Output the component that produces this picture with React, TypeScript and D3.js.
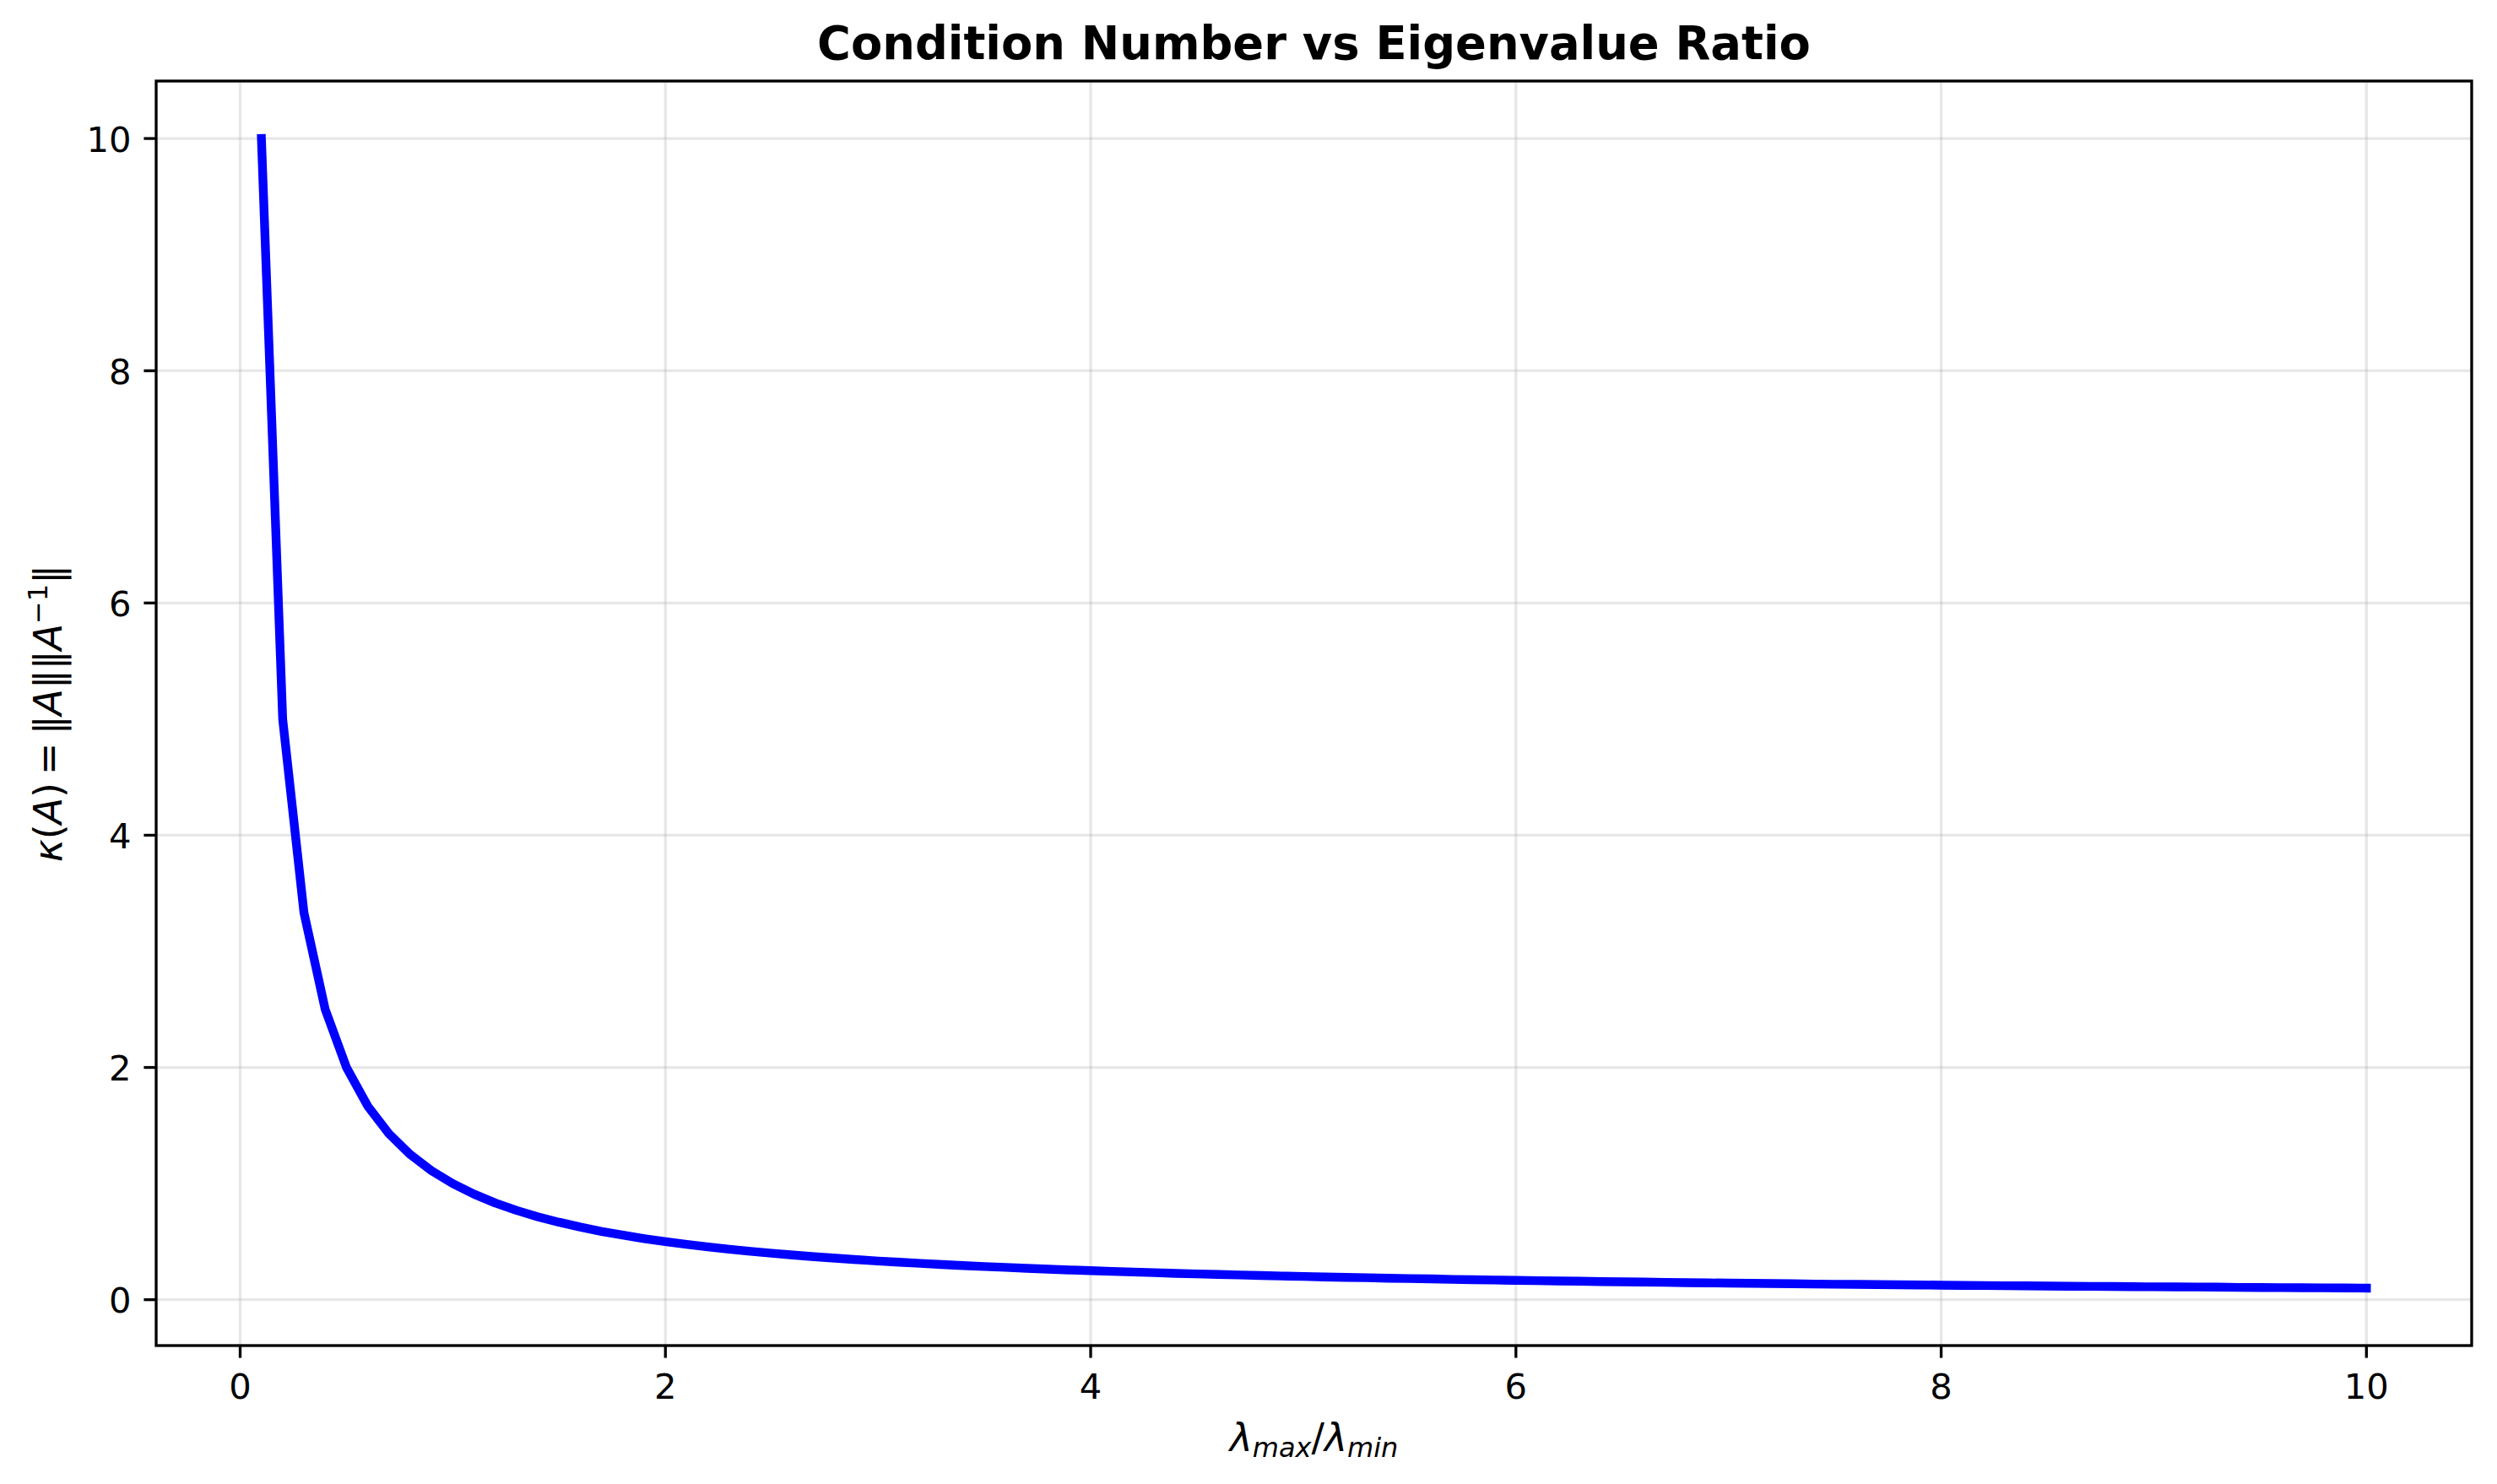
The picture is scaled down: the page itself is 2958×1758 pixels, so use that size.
import React from "react";
import * as d3 from "d3";

const ratioValues: number[] = [
  0.1, 0.2, 0.3, 0.4, 0.5, 0.6, 0.7, 0.8, 0.9, 1.0,
  1.1, 1.2, 1.3, 1.4, 1.5, 1.6, 1.7, 1.8, 1.9, 2.0,
  2.1, 2.2, 2.3, 2.4, 2.5, 2.6, 2.7, 2.8, 2.9, 3.0,
  3.1, 3.2, 3.3, 3.4, 3.5, 3.6, 3.7, 3.8, 3.9, 4.0,
  4.1, 4.2, 4.3, 4.4, 4.5, 4.6, 4.7, 4.8, 4.9, 5.0,
  5.1, 5.2, 5.3, 5.4, 5.5, 5.6, 5.7, 5.8, 5.9, 6.0,
  6.1, 6.2, 6.3, 6.4, 6.5, 6.6, 6.7, 6.8, 6.9, 7.0,
  7.1, 7.2, 7.3, 7.4, 7.5, 7.6, 7.7, 7.8, 7.9, 8.0,
  8.1, 8.2, 8.3, 8.4, 8.5, 8.6, 8.7, 8.8, 8.9, 9.0,
  9.1, 9.2, 9.3, 9.4, 9.5, 9.6, 9.7, 9.8, 9.9, 10.0,
];

const conditionValues: number[] = [
  10, 5, 3.333, 2.5, 2, 1.667, 1.429, 1.25, 1.111, 1,
  0.909, 0.833, 0.769, 0.714, 0.667, 0.625, 0.588, 0.556, 0.526, 0.5,
  0.476, 0.455, 0.435, 0.417, 0.4, 0.385, 0.37, 0.357, 0.345, 0.333,
  0.323, 0.313, 0.303, 0.294, 0.286, 0.278, 0.27, 0.263, 0.256, 0.25,
  0.244, 0.238, 0.233, 0.227, 0.222, 0.217, 0.213, 0.208, 0.204, 0.2,
  0.196, 0.192, 0.189, 0.185, 0.182, 0.179, 0.175, 0.172, 0.169, 0.167,
  0.164, 0.161, 0.159, 0.156, 0.154, 0.152, 0.149, 0.147, 0.145, 0.143,
  0.141, 0.139, 0.137, 0.135, 0.133, 0.132, 0.13, 0.128, 0.127, 0.125,
  0.123, 0.122, 0.12, 0.119, 0.118, 0.116, 0.115, 0.114, 0.112, 0.111,
  0.11, 0.109, 0.108, 0.106, 0.105, 0.104, 0.103, 0.102, 0.101, 0.1,
];

const xTicks: number[] = [0, 2, 4, 6, 8, 10];
const yTicks: number[] = [0, 2, 4, 6, 8, 10];
const titleText = "Condition Number vs Eigenvalue Ratio";

const W = 2958;
const H = 1758;
const AX = { left: 185, right: 2928, top: 96, bottom: 1594 };
const FONT = "'DejaVu Sans', sans-serif";

export default function App() {
  const xMin = d3.min(ratioValues)!;
  const xMax = d3.max(ratioValues)!;
  const yMin = d3.min(conditionValues)!;
  const yMax = d3.max(conditionValues)!;
  const xPad = (xMax - xMin) * 0.05;
  const yPad = (yMax - yMin) * 0.05;

  const x = d3.scaleLinear().domain([xMin - xPad, xMax + xPad]).range([AX.left, AX.right]);
  const y = d3.scaleLinear().domain([yMin - yPad, yMax + yPad]).range([AX.bottom, AX.top]);

  const pts: [number, number][] = ratioValues.map((v, i) => [v, conditionValues[i]]);
  const lineGen = d3
    .line<[number, number]>()
    .x((d) => x(d[0]))
    .y((d) => y(d[1]));

  const gridColor = "#b0b0b0";
  const cx = (AX.left + AX.right) / 2;
  const cy = (AX.top + AX.bottom) / 2;
  const labelSize = 45.8;
  const subSize = 32;

  return (
    <svg
      width={W}
      height={H}
      style={{ position: "absolute", left: 0, top: 0, background: "#fff" }}
      fontFamily={FONT}
    >
      <rect x={0} y={0} width={W} height={H} fill="#fff" />
      {/* grid */}
      <g stroke={gridColor} strokeOpacity={0.3} strokeWidth={3.33}>
        {xTicks.map((t) => (
          <line key={"gx" + t} x1={x(t)} x2={x(t)} y1={AX.top} y2={AX.bottom} />
        ))}
        {yTicks.map((t) => (
          <line key={"gy" + t} x1={AX.left} x2={AX.right} y1={y(t)} y2={y(t)} />
        ))}
      </g>
      {/* data line */}
      <path
        d={lineGen(pts) || ""}
        fill="none"
        stroke="#0000ff"
        strokeWidth={10.4}
        strokeLinejoin="round"
        strokeLinecap="square"
      />
      {/* spines */}
      <rect
        x={AX.left}
        y={AX.top}
        width={AX.right - AX.left}
        height={AX.bottom - AX.top}
        fill="none"
        stroke="#000"
        strokeWidth={3.33}
      />
      {/* x ticks */}
      <g>
        {xTicks.map((t) => (
          <g key={"xt" + t}>
            <line x1={x(t)} x2={x(t)} y1={AX.bottom} y2={AX.bottom + 14.6} stroke="#000" strokeWidth={3.33} />
            <text x={x(t)} y={1657} textAnchor="middle" fontSize={41.7} fill="#000">
              {t}
            </text>
          </g>
        ))}
      </g>
      {/* y ticks */}
      <g>
        {yTicks.map((t) => (
          <g key={"yt" + t}>
            <line x1={AX.left - 14.6} x2={AX.left} y1={y(t)} y2={y(t)} stroke="#000" strokeWidth={3.33} />
            <text x={AX.left - 29.5} y={y(t) + 15.5} textAnchor="end" fontSize={41.7} fill="#000">
              {t}
            </text>
          </g>
        ))}
      </g>
      {/* title */}
      <text x={cx} y={70} textAnchor="middle" fontSize={54.3} fontWeight="bold" fill="#000">
        {titleText}
      </text>
      {/* x label */}
      <text x={cx} y={1719} textAnchor="middle" fontSize={labelSize} fill="#000">
        <tspan fontStyle="italic">λ</tspan>
        <tspan fontStyle="italic" fontSize={subSize} dy={7}>max</tspan>
        <tspan dy={-7}>/</tspan>
        <tspan fontStyle="italic">λ</tspan>
        <tspan fontStyle="italic" fontSize={subSize} dy={7}>min</tspan>
      </text>
      {/* y label */}
      <text
        transform={`translate(72.5,${cy}) rotate(-90)`}
        textAnchor="middle"
        fontSize={labelSize}
        fill="#000"
      >
        <tspan fontStyle="italic">κ</tspan>
        <tspan>(</tspan>
        <tspan fontStyle="italic">A</tspan>
        <tspan>){"\u2009"}={"\u2009"}‖</tspan>
        <tspan fontStyle="italic">A</tspan>
        <tspan>‖‖</tspan>
        <tspan fontStyle="italic">A</tspan>
        <tspan fontSize={subSize} dy={-17}>−1</tspan>
        <tspan dy={17}>‖</tspan>
      </text>
    </svg>
  );
}
